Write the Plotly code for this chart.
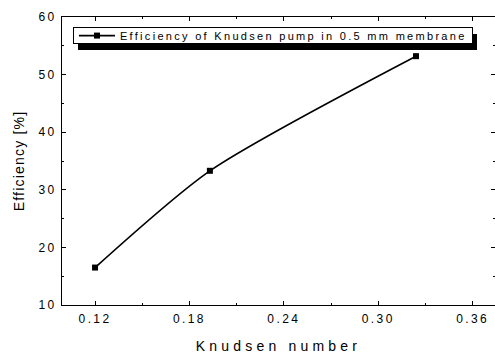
import plotly.graph_objects as go

# Knudsen pump efficiency, 0.5 mm membrane
knudsen = [0.12, 0.193, 0.324]
efficiency = [16.5, 33.3, 53.2]
series_name = "Efficiency of Knudsen pump in 0.5 mm membrane"
x_ticks = [0.12, 0.18, 0.24, 0.30, 0.36]
y_ticks = [10, 20, 30, 40, 50, 60]

FONT = "Liberation Sans, Arial, sans-serif"

fig = go.Figure()
fig.add_trace(go.Scatter(
    x=knudsen, y=efficiency, name=series_name,
    mode="lines+markers",
    line=dict(color="black", width=1.6, shape="spline", smoothing=0.7),
    marker=dict(symbol="square", size=6, color="black"),
    showlegend=True,
))

axis_common = dict(
    showline=True, linecolor="black", linewidth=1, mirror="allticks",
    ticks="inside", ticklen=4, tickcolor="black", tickwidth=1,
    showgrid=False, zeroline=False,
    tickfont=dict(family=FONT, size=12, color="black"),
)

fig.update_xaxes(
    range=[0.099, 0.3742], tickvals=x_ticks, tickformat=".2f",
    ticklabelstandoff=3,
    minor=dict(dtick=0.03, tick0=0.12, ticks="inside", ticklen=2, tickcolor="black"),
    title=dict(text="Knudsen number", font=dict(family=FONT, size=14, color="black"), standoff=16),
    **axis_common,
)
fig.update_yaxes(
    range=[10, 60], tickvals=y_ticks,
    ticklabelstandoff=2,
    minor=dict(dtick=5, tick0=10, ticks="inside", ticklen=2, tickcolor="black"),
    title=dict(text="Efficiency [%]", font=dict(family=FONT, size=14, color="black"), standoff=15),
    **axis_common,
)

fig.update_layout(
    width=495, height=354,
    margin=dict(l=62, r=0, t=17, b=49),
    paper_bgcolor="white", plot_bgcolor="white",
    font=dict(family=FONT, color="black"),
    legend=dict(
        x=0.0254, y=0.965, xanchor="left", yanchor="top",
        bgcolor="white", bordercolor="black", borderwidth=1,
        font=dict(family=FONT, size=11, color="black"),
        itemwidth=36,
    ),
)

# Spaced lettering for labels; redraw the legend (with a fresh font size so its
# text is measured again) so the box fits the spaced text, then make the box
# compact and give it a drop shadow
post = """
var gd = document.getElementById('{plot_id}');
var st = document.createElement('style');
st.textContent = '.xtick text, .ytick text {letter-spacing: 2.4px;}' +
  '.xtitle {letter-spacing: 4.2px;}' +
  '.ytitle {letter-spacing: 1.2px;}' +
  '.legendtext {letter-spacing: 2.3px;}';
document.head.appendChild(st);
Plotly.relayout(gd, {'legend.font.size': 11.01}).then(function() {
  var leg = gd.querySelector('g.legend');
  var bg = leg.querySelector('rect.bg');
  if (!bg) return;
  var h0 = parseFloat(bg.getAttribute('height'));
  var h1 = 16;
  if (h0 > h1) {
    bg.setAttribute('height', h1);
    var groups = leg.querySelector('g.groups');
    if (groups) groups.setAttribute('transform', 'translate(0,' + (-(h0 - h1) / 2) + ')');
  }
  var sh = bg.cloneNode(true);
  sh.setAttribute('class', 'legend-shadow');
  sh.style.fill = '#000';
  sh.style.stroke = 'none';
  sh.setAttribute('transform', 'translate(5,6)');
  bg.parentNode.insertBefore(sh, bg);
});
"""

fig.write_html("out.html", post_script=post)
